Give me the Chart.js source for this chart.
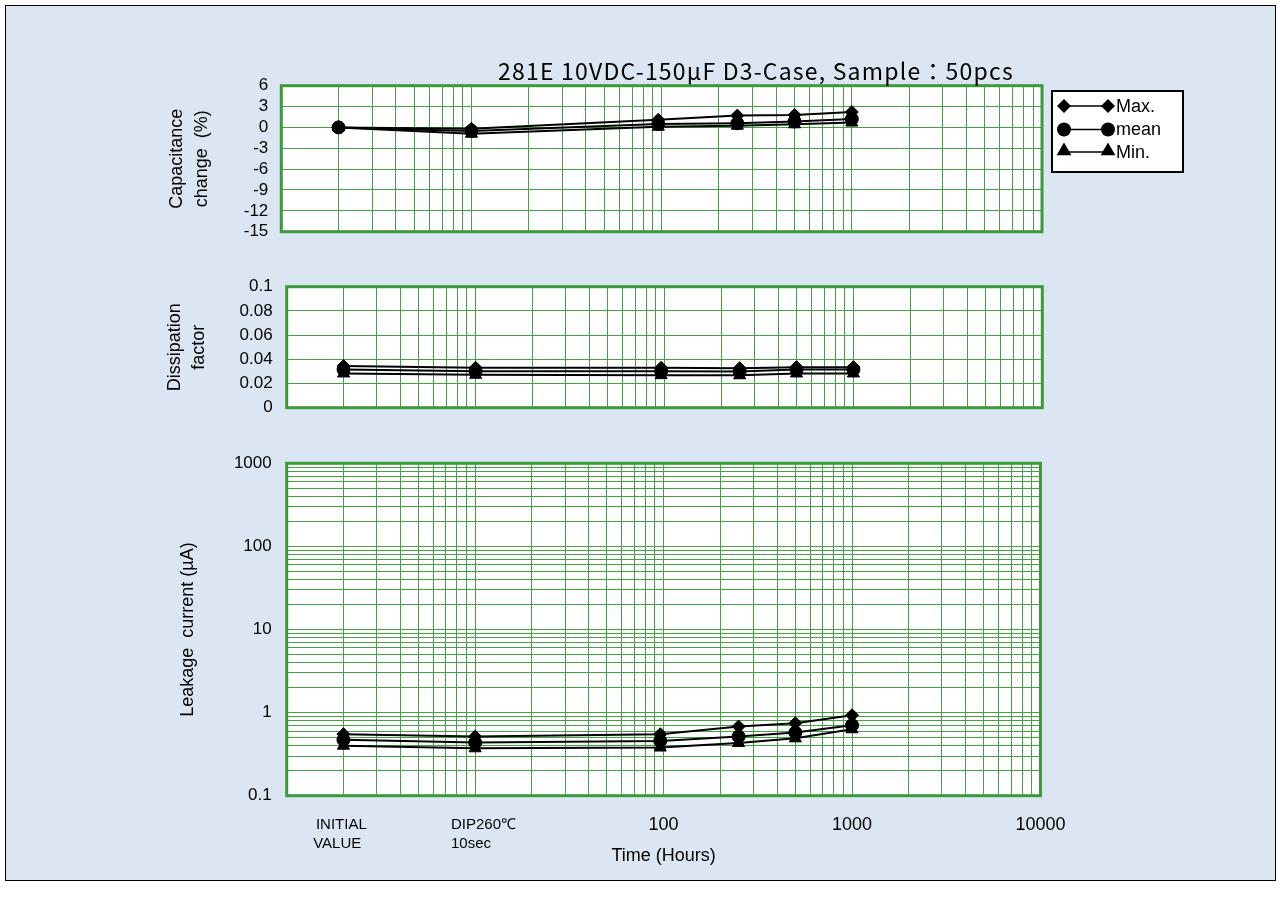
<!DOCTYPE html>
<html>
<head>
<meta charset="utf-8">
<script src="https://cdn.jsdelivr.net/npm/chart.js@4.4.1/dist/chart.umd.min.js"></script>
<style>
  html, body { margin: 0; padding: 0; background: #ffffff; }
  #frame { position: absolute; left: 5px; top: 5px; width: 1269px; height: 874px;
           border: 1px solid #000; background: #dce6f2; }
  canvas { position: absolute; left: 0; }
</style>
</head>
<body>
<div id="frame"></div>
<canvas id="capChart" width="1280" height="262" style="top:0px"></canvas>
<canvas id="dfChart" width="1280" height="200" style="top:250px"></canvas>
<canvas id="lcChart" width="1280" height="476" style="top:430px"></canvas>
<script>
// ---- data ----
const chartTitle = '281E 10VDC-150µF D3-Case, Sample：50pcs';
const seriesNames = ['Max.', 'mean', 'Min.'];
const markerStyles = ['rectRot', 'circle', 'triangle'];

// x positions on the log time axis (INITIAL drawn at 2, DIP at 10)
const timeHours = [2, 10, 96, 250, 500, 1000];

const capMax  = [0.0, -0.2, 1.1, 1.7, 1.8, 2.2];
const capMean = [0.0, -0.5, 0.5, 0.6, 0.85, 1.2];
const capMin  = [0.0, -0.9, 0.1, 0.25, 0.45, 0.7];

const dfMax  = [0.0344, 0.0330, 0.0330, 0.0327, 0.0335, 0.0335];
const dfMean = [0.0316, 0.0302, 0.0302, 0.0300, 0.0316, 0.0316];
const dfMin  = [0.0283, 0.0272, 0.0269, 0.0268, 0.0283, 0.0283];

const lcMax  = [0.55, 0.515, 0.55, 0.68, 0.745, 0.93];
const lcMean = [0.47, 0.436, 0.456, 0.515, 0.575, 0.705];
const lcMin  = [0.40, 0.372, 0.38, 0.43, 0.49, 0.63];

// the two text labels sit left-aligned in the original, spaces nudge them there
const xTickValues = [2, 10, 100, 1000, 10000];
const xTickLabels = [['INITIAL ', 'VALUE   '], ['    DIP260℃', '10sec  '], '100', '1000', '10000'];
const capTicks = [-15, -12, -9, -6, -3, 0, 3, 6];
const capTickLabels = ['-15', '-12', '-9', '-6', '-3', '0', '3', '6'];
const dfTicks = [0, 0.02, 0.04, 0.06, 0.08, 0.1];
const dfTickLabels = ['0', '0.02', '0.04', '0.06', '0.08', '0.1'];
const lcTickValues = [0.1, 1, 10, 100, 1000];
const lcTickLabels = ['0.1', '1', '10', '100', '1000'];

// ---- styling ----
const GRID = '#44a244';
const FRAME = '#3a9a3a';
const FONT = "'Liberation Sans', Arial, sans-serif";

Chart.defaults.font.family = FONT;
Chart.defaults.color = '#000';

// 1..9 x 10^k grid values between min and max
function logGrid(min, max) {
  const out = [];
  for (let k = Math.round(Math.log10(min)); k <= Math.round(Math.log10(max)); k++) {
    for (let m = 1; m <= 9; m++) {
      const v = Number((m * Math.pow(10, k)).toPrecision(8));
      if (v >= min && v <= max) out.push(v);
    }
  }
  return out;
}

function makeDatasets(arrays) {
  return arrays.map((arr, i) => ({
    label: seriesNames[i],
    data: timeHours.map((t, j) => ({ x: t, y: arr[j] })),
    borderColor: '#000',
    backgroundColor: '#000',
    borderWidth: 2,
    tension: 0,
    pointStyle: markerStyles[i],
    pointRadius: i === 2 ? 7 : 6.5,
    pointBorderWidth: 1,
    pointBorderColor: '#000',
    pointBackgroundColor: '#000'
  }));
}

// hidden x axes get a fixed height larger than the y labels' overhang,
// so the plot bottom stays where layout.padding puts it
function xAxis(showLabels, hiddenHeight) {
  return {
    type: 'logarithmic', min: 1, max: 10000,
    afterBuildTicks: s => { s.ticks = logGrid(1, 10000).map(v => ({ value: v })); },
    afterFit: s => { s.height = showLabels ? 72 : hiddenHeight; },
    grid: { color: GRID, lineWidth: 1, drawTicks: false },
    border: { display: false },
    ticks: {
      display: showLabels, autoSkip: false, maxRotation: 0, minRotation: 0, padding: 19,
      color: '#000',
      font: c => (c.tick && (c.tick.value === 2 || c.tick.value === 10))
        ? { size: 15, lineHeight: 1.3 } : { size: 18, lineHeight: 1.2 },
      callback: v => { const i = xTickValues.indexOf(v); return i < 0 ? '' : xTickLabels[i]; }
    },
    title: {
      display: showLabels, text: 'Time (Hours)', color: '#000',
      font: { size: 18, lineHeight: 1.2 }, padding: { top: 0, bottom: 1 }
    }
  };
}

// white plot area with thick green frame
const panelPlugin = {
  id: 'panel',
  beforeDraw(chart) {
    const a = chart.chartArea, ctx = chart.ctx;
    ctx.save();
    ctx.fillStyle = '#fff';
    ctx.fillRect(a.left, a.top, a.right - a.left, a.bottom - a.top);
    ctx.restore();
  },
  beforeDatasetsDraw(chart) {
    const a = chart.chartArea, ctx = chart.ctx;
    ctx.save();
    ctx.strokeStyle = FRAME;
    ctx.lineWidth = 3;
    ctx.strokeRect(a.left, a.top, a.right - a.left, a.bottom - a.top);
    ctx.restore();
  }
};

function drawMarker(ctx, style, r, x, y) {
  ctx.beginPath();
  if (style === 'circle') {
    ctx.arc(x, y, r, 0, Math.PI * 2);
  } else if (style === 'rectRot') {
    ctx.moveTo(x, y - r); ctx.lineTo(x + r, y); ctx.lineTo(x, y + r); ctx.lineTo(x - r, y);
  } else {
    ctx.moveTo(x, y - r); ctx.lineTo(x + r * 0.866, y + r * 0.5); ctx.lineTo(x - r * 0.866, y + r * 0.5);
  }
  ctx.closePath();
  ctx.fill();
}

// heading and marker-line-marker legend of the top panel
const headerPlugin = {
  id: 'header',
  afterDraw(chart) {
    const ctx = chart.ctx;
    ctx.save();
    ctx.fillStyle = '#000';
    ctx.font = "23px 'Noto Sans CJK JP', sans-serif";
    if ('letterSpacing' in ctx) ctx.letterSpacing = '1.2px';
    ctx.textAlign = 'center';
    ctx.textBaseline = 'middle';
    ctx.fillText(chartTitle, 756, 71);
    if ('letterSpacing' in ctx) ctx.letterSpacing = '0px';

    ctx.fillStyle = '#fff';
    ctx.fillRect(1052, 91, 131, 81);
    ctx.strokeStyle = '#000';
    ctx.lineWidth = 2;
    ctx.strokeRect(1052, 91, 131, 81);

    const rows = [106, 129.5, 152];
    const sizes = [7, 7, 8.5];
    ctx.font = '18px ' + FONT;
    ctx.textAlign = 'left';
    chart.data.datasets.forEach((ds, i) => {
      const y = rows[i];
      ctx.strokeStyle = '#000';
      ctx.lineWidth = 1.5;
      ctx.beginPath(); ctx.moveTo(1064, y); ctx.lineTo(1108, y); ctx.stroke();
      ctx.fillStyle = '#000';
      const yy = ds.pointStyle === 'triangle' ? y - 1 : y;
      drawMarker(ctx, ds.pointStyle, sizes[i], 1064, yy);
      drawMarker(ctx, ds.pointStyle, sizes[i], 1108, yy);
      ctx.fillText(ds.label, 1116, y + 1);
    });
    ctx.restore();
  }
};

const baseOptions = {
  responsive: false,
  animation: false,
  plugins: { legend: { display: false }, tooltip: { enabled: false } }
};

new Chart(document.getElementById('capChart'), {
  type: 'line',
  data: { datasets: makeDatasets([capMax, capMean, capMin]) },
  plugins: [panelPlugin, headerPlugin],
  options: {
    ...baseOptions,
    layout: { padding: { top: 85.7, right: 238, bottom: 0, left: 0 } },
    scales: {
      x: xAxis(false, 30.3),
      y: {
        min: -15, max: 6,
        afterBuildTicks: s => { s.ticks = capTicks.map(v => ({ value: v })); },
        afterFit: s => { s.width = 281.3; },
        grid: { color: GRID, lineWidth: 1, drawTicks: false },
        border: { display: false },
        ticks: { padding: 13, color: '#000', font: { size: 17 }, autoSkip: false,
                 callback: (v, i) => capTickLabels[i] },
        title: { display: true, text: ['Capacitance', 'change  (%)'], color: '#000',
                 font: { size: 18, lineHeight: 1.35 }, padding: { top: 165.3, bottom: 0 } }
      }
    }
  }
});

new Chart(document.getElementById('dfChart'), {
  type: 'line',
  data: { datasets: makeDatasets([dfMax, dfMean, dfMin]) },
  plugins: [panelPlugin],
  options: {
    ...baseOptions,
    layout: { padding: { top: 36.7, right: 237.7, bottom: 12.3, left: 0 } },
    scales: {
      x: xAxis(false, 30),
      y: {
        min: 0, max: 0.1,
        afterBuildTicks: s => { s.ticks = dfTicks.map(v => ({ value: v })); },
        afterFit: s => { s.width = 286.7; },
        grid: { color: GRID, lineWidth: 1, drawTicks: false },
        border: { display: false },
        ticks: { padding: 14, color: '#000', font: { size: 17 }, autoSkip: false,
                 callback: (v, i) => dfTickLabels[i] },
        title: { display: true, text: ['Dissipation', 'factor'], color: '#000',
                 font: { size: 18, lineHeight: 1.35 }, padding: { top: 162.9, bottom: 0 } }
      }
    }
  }
});

new Chart(document.getElementById('lcChart'), {
  type: 'line',
  data: { datasets: makeDatasets([lcMax, lcMean, lcMin]) },
  plugins: [panelPlugin],
  options: {
    ...baseOptions,
    layout: { padding: { top: 33.3, right: 239.5, bottom: 38.3, left: 0 } },
    scales: {
      x: xAxis(true, 0),
      y: {
        type: 'logarithmic', min: 0.1, max: 1000,
        afterBuildTicks: s => { s.ticks = logGrid(0.1, 1000).map(v => ({ value: v })); },
        afterFit: s => { s.width = 286.7; },
        grid: { color: GRID, lineWidth: 1, drawTicks: false },
        border: { display: false },
        ticks: {
          padding: 15, color: '#000', font: { size: 17 }, autoSkip: false,
          callback: v => { const i = lcTickValues.indexOf(v); return i < 0 ? '' : lcTickLabels[i]; }
        },
        title: { display: true, text: 'Leakage  current (µA)', color: '#000',
                 font: { size: 18, lineHeight: 1.35 }, padding: { top: 175.9, bottom: 0 } }
      }
    }
  }
});
</script>
</body>
</html>
